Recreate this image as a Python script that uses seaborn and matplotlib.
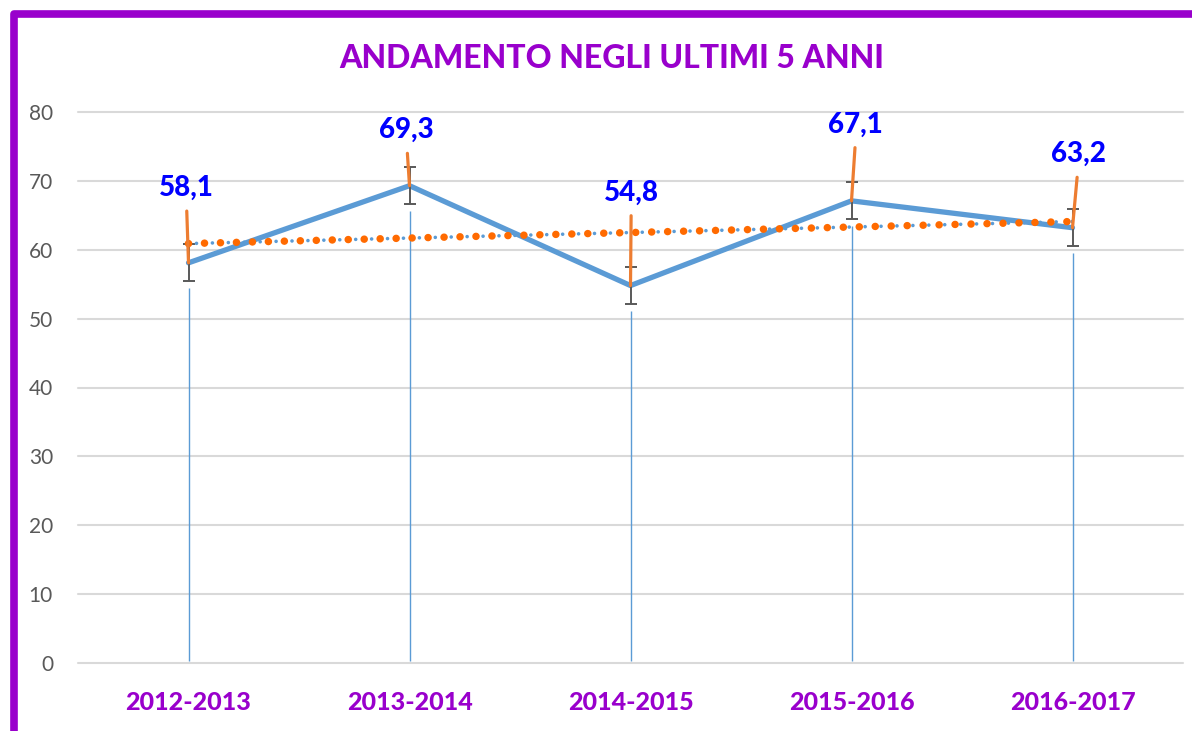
import numpy as np
import pandas as pd
import matplotlib
matplotlib.use("Agg")
import matplotlib.pyplot as plt
import seaborn as sns
from matplotlib.patches import Rectangle

categories = ["2012-2013", "2013-2014", "2014-2015", "2015-2016", "2016-2017"]
values = [58.1, 69.3, 54.8, 67.1, 63.2]
errors = [2.7, 2.7, 2.7, 2.7, 2.7]
label_offsets = [(-1.5, 54), (-2, 40), (0.5, 67), (3, 55), (4, 53)]  # points
title = "ANDAMENTO NEGLI ULTIMI 5 ANNI"

sns.set_theme(style="white")
plt.rcParams['font.family'] = ['Lato', 'DejaVu Sans']

PURPLE = "#9900CC"
BLUE = "#5B9BD5"
ORANGE = "#ED7D31"
TREND = "#FF6A00"
GRAY = "#595959"

fig = plt.figure(figsize=(11.92, 7.31), dpi=100)
fig.patch.set_facecolor("white")
ax = fig.add_axes([78/1192, 1-663/731, (1183-78)/1192, (663-112)/731])

xpos = np.arange(len(categories))
df = pd.DataFrame({"x": xpos, "value": values})

ax.set_xlim(-0.5, len(categories)-0.5)
ax.set_ylim(0, 80)
ax.set_yticks(range(0, 81, 10))
ax.grid(axis="y", color="#D9D9D9", lw=1.5)
ax.grid(axis="x", visible=False)
for s in ax.spines.values():
    s.set_visible(False)
for gl in ax.get_ygridlines():
    gl.set_clip_on(False)

# drop lines
ax.vlines(xpos, 0.3, np.array(values) - np.array(errors) - 1.0, color=BLUE, lw=1.0, zorder=2)

sns.lineplot(data=df, x="x", y="value", ax=ax, color=BLUE, lw=3.8, zorder=3)

ax.errorbar(xpos, values, yerr=errors, fmt="none", ecolor=GRAY, elinewidth=1.4,
            capsize=4.5, capthick=1.4, zorder=4)

# trend line (linear regression)
sns.regplot(data=df, x="x", y="value", ax=ax, scatter=False, ci=None, truncate=True,
            line_kws=dict(color=BLUE, lw=2.6, linestyle=(2.2, (0.01, 4.4)),
                          dash_capstyle="round", zorder=5))
sns.regplot(data=df, x="x", y="value", ax=ax, scatter=False, ci=None, truncate=True,
            line_kws=dict(color=TREND, lw=5.4, linestyle=(0, (0.01, 2.12)),
                          dash_capstyle="round", zorder=6))

for xi, v, off in zip(xpos, values, label_offsets):
    ax.annotate(f"{v:.1f}".replace(".", ","), xy=(xi, v), xytext=off,
                textcoords="offset points", ha="center", va="center",
                fontsize=20, fontweight="black", color="#0000FF", zorder=8,
                arrowprops=dict(arrowstyle="-", color=ORANGE, lw=2.3,
                                shrinkA=5, shrinkB=0, relpos=(0.5, 0)))

ax.set_xticks(xpos)
ax.set_xticklabels(categories, fontsize=18, fontweight="black", color=PURPLE)
ax.tick_params(axis="x", length=0, pad=20)
ax.tick_params(axis="y", length=0, pad=18, labelsize=15, labelcolor=GRAY)
ax.set_xlabel("")
ax.set_ylabel("")

fig.text(612/1192, 1-59/731, title, ha="center", va="center", fontsize=23,
         fontweight="black", color=PURPLE)

# purple frame
fig.patches.append(Rectangle((13.5/1192, -0.2), 1.2, 1.2 - 13.5/731 + 0.0,
                             transform=fig.transFigure, fill=False,
                             edgecolor=PURPLE, lw=5.5, joinstyle="round"))

ax.set_title("")
fig.savefig("out.png", dpi=100, facecolor="white")
